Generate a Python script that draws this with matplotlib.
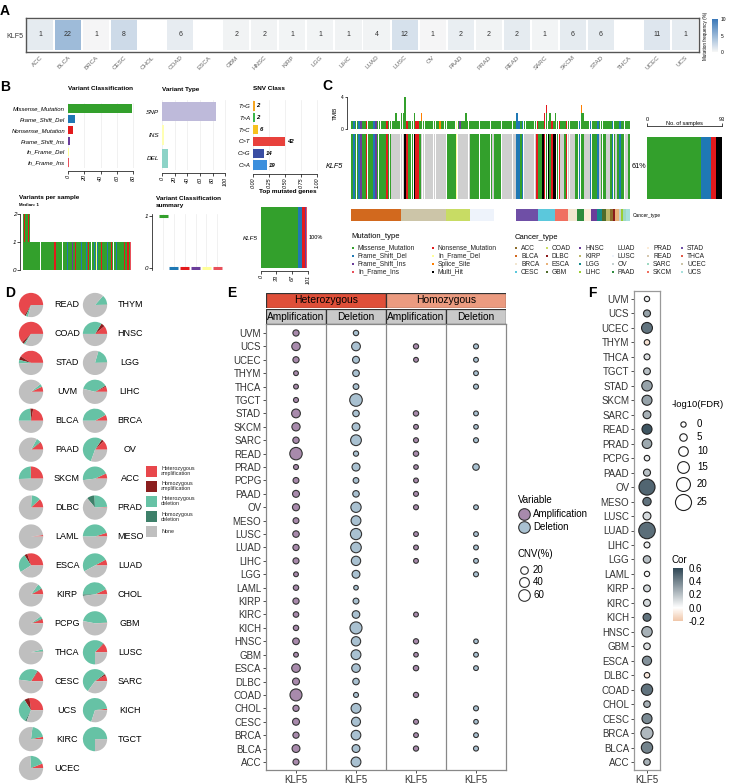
import numpy as np
import matplotlib
matplotlib.use('Agg')
import matplotlib.pyplot as plt
import matplotlib.colors as mcolors
from matplotlib.patches import Rectangle
from matplotlib.cm import ScalarMappable

plt.rcParams['font.family'] = ['Liberation Sans', 'DejaVu Sans']

W, H = 731, 784
fig = plt.figure(figsize=(W / 100, H / 100), dpi=100)


def pax(x0, y0, x1, y1):
    # axes from pixel box (top-left origin)
    return fig.add_axes([x0 / W, 1 - y1 / H, (x1 - x0) / W, (y1 - y0) / H])


def ftxt(x, y, s, **kw):
    fig.text(x / W, 1 - y / H, s, **kw)


# ---------------- data ----------------
# A: mutation counts / frequency per cancer type
a_types = ['ACC', 'BLCA', 'BRCA', 'CESC', 'CHOL', 'COAD', 'ESCA', 'GBM', 'HNSC', 'KIRP', 'LGG', 'LIHC',
           'LUAD', 'LUSC', 'OV', 'PAAD', 'PRAD', 'READ', 'SARC', 'SKCM', 'STAD', 'THCA', 'UCEC', 'UCS']
a_count = [1, 22, 1, 8, 0, 6, 0, 2, 2, 1, 1, 1, 4, 12, 1, 2, 2, 2, 1, 6, 6, 0, 11, 1]
a_freq = [0.9, 4.7, 0.1, 2.2, 0, 0.8, 0, 0.3, 0.3, 0.2, 0.2, 0.3, 0.3, 1.7, 0.1, 0.7, 0.3, 0.9, 0.2,
          0.9, 0.9, 0, 1.3, 0.9]

# B: maftools summary
vc_names = ['Missense_Mutation', 'Frame_Shift_Del', 'Nonsense_Mutation', 'Frame_Shift_Ins',
            'In_Frame_Del', 'In_Frame_Ins']
vc_codes = ['M', 'D', 'N', 'I', 'Y', 'P']
vc_counts = [79, 9, 6, 2, 1, 1]
vc_median = [1, 0, 0, 0, 0, 0]
vt_names = ['SNP', 'INS', 'DEL']
vt_counts = [85, 3, 10]
snv_names = ['T>G', 'T>A', 'T>C', 'C>T', 'C>G', 'C>A']
snv_counts = [2, 2, 6, 42, 14, 19]
vps_bottom = ("MMMMMMMMMM" "MMMMMMMMMM" "MMMMMMMNMM" "MMMMMMMMDM" "MMIMMNMMMM"
              "DMMMDMNMMM" "MDMYDMMNMM" "MMDMMMNMMM" "DMMMMMMNMM" "NMP")
vps_top = "MNMMNM"

# C: oncoplot
onco = "".join(["MDMMDIMMNMMMDIMMMMMNMM", ".......", "HNMMMHNNM", "..............", "MMMMMY",
                ".......", "MMMMMMMMMMMM", ".", "MMMM", "........", "DDMD", ".......",
                "NMMHNMHMNHHMN", "..", "MN....", "MMDMM...DMMMD.MMM..MDM.MDMM..M"])
tmb_extra = {24: 2, 27: 2, 28: 2, 29: 4, 34: 2, 38: 2, 62: 2, 90: 2, 105: 2, 106: 3, 108: 2,
             111: 2, 125: 3, 126: 2}
tmb_top = {38: 'S', 48: 'S', 59: 'I', 106: 'N', 125: 'S'}
side_codes = ['M', 'D', 'N', 'H']
side_counts = [67, 12, 7, 7]
cb_names = ['BLCA', 'UCEC', 'COAD', 'LUSC', 'LUAD', 'STAD', 'CESC', 'SKCM', 'BRCA', 'PAAD', 'PRAD',
            'HNSC', 'LGG', 'GBM', 'KIRP', 'ACC', 'DLBC', 'ESCA', 'OV', 'LIHC', 'SARC', 'UCS']
cb_counts = [27, 25, 13, 13, 12, 12, 9, 7, 5, 4, 4, 3, 3, 2, 2, 2, 1, 2, 1, 1, 2, 2]
cancer_colors = {'ACC': '#8c6d2c', 'BLCA': '#d2691e', 'BRCA': '#f2e6d0', 'CESC': '#5bc8dc',
                 'COAD': '#c8dc64', 'DLBC': '#8b1a1a', 'ESCA': '#e9b27a', 'GBM': '#4f6b2a',
                 'HNSC': '#6a3d9a', 'KIRP': '#bdb76b', 'LGG': '#138a8a', 'LIHC': '#9acd32',
                 'LUAD': '#ffffff', 'LUSC': '#eef3fb', 'OV': '#c4d0d0', 'PAAD': '#2e8b3e',
                 'PRAD': '#fbebd7', 'READ': '#d6c8b0', 'SARC': '#9ed9c2', 'SKCM': '#f07060',
                 'STAD': '#6f4fa6', 'THCA': '#e05a48', 'UCEC': '#ccc5a8', 'UCS': '#a8e0dc'}

# D: CNV pies
pie_types = ['READ', 'COAD', 'STAD', 'UVM', 'BLCA', 'PAAD', 'SKCM', 'DLBC', 'LAML', 'ESCA', 'KIRP',
             'PCPG', 'THCA', 'CESC', 'UCS', 'KIRC', 'UCEC',
             'THYM', 'HNSC', 'LGG', 'LIHC', 'BRCA', 'OV', 'ACC', 'PRAD', 'MESO', 'LUAD', 'CHOL',
             'GBM', 'LUSC', 'SARC', 'KICH', 'TGCT']
pie_het_amp = [0.66, 0.62, 0.41, 0.07, 0.22, 0.10, 0.25, 0.12, 0.02, 0.30, 0.07, 0.05, 0.01, 0.15,
               0.27, 0.03, 0.06,
               0.005, 0.11, 0.005, 0.07, 0.08, 0.125, 0.07, 0.01, 0.05, 0.08, 0.07, 0.01, 0.12,
               0.08, 0.02, 0.0]
pie_hom_amp = [0.02, 0.03, 0.05, 0.0, 0.04, 0.01, 0.005, 0.0, 0.0, 0.04, 0.01, 0.01, 0.0, 0.01,
               0.07, 0.0, 0.0,
               0.0, 0.05, 0.0, 0.015, 0.0, 0.03, 0.0, 0.0, 0.0, 0.0, 0.0, 0.0, 0.01, 0.02, 0.0, 0.0]
pie_het_del = [0.03, 0.02, 0.05, 0.04, 0.24, 0.06, 0.25, 0.12, 0.0, 0.25, 0.07, 0.04, 0.03, 0.32,
               0.33, 0.20, 0.20,
               0.13, 0.34, 0.20, 0.375, 0.42, 0.54, 0.45, 0.25, 0.45, 0.50, 0.43, 0.46, 0.62,
               0.55, 0.68, 0.75]
pie_hom_del = [0.0, 0.0, 0.0, 0.0, 0.0, 0.0, 0.0, 0.0, 0.0, 0.0, 0.0, 0.0, 0.0, 0.0, 0.02, 0.0, 0.0,
               0.0, 0.0, 0.0, 0.0, 0.0, 0.0, 0.0, 0.10, 0.0, 0.0, 0.02, 0.0, 0.0, 0.0, 0.0, 0.0]

# E: CNV percentage
e_types = ['UVM', 'UCS', 'UCEC', 'THYM', 'THCA', 'TGCT', 'STAD', 'SKCM', 'SARC', 'READ', 'PRAD',
           'PCPG', 'PAAD', 'OV', 'MESO', 'LUSC', 'LUAD', 'LIHC', 'LGG', 'LAML', 'KIRP', 'KIRC',
           'KICH', 'HNSC', 'GBM', 'ESCA', 'DLBC', 'COAD', 'CHOL', 'CESC', 'BRCA', 'BLCA', 'ACC']
nan = np.nan
e_het_amp = [10, 27, 10, 2, 2, 3, 30, 25, 11, 70, 3, 8, 15, 16, 8, 12, 10, 9, 2, 5, 10, 6, 5, 13,
             2, 28, 15, 65, 10, 15, 10, 22, 9]
e_het_del = [5, 30, 15, 13, 7, 72, 12, 22, 50, 4, 23, 7, 12, 45, 40, 55, 48, 35, 22, 1, 8, 20, 65,
             35, 40, 28, 12, 3, 40, 32, 38, 22, 40]
e_hom_amp = [nan, 4, 2, nan, nan, nan, 5, 2, 3, 5, 1, 2, 3, 3, nan, 2, 2, 2, nan, nan, nan, 2, nan,
             4, 1, 5, nan, 4, nan, 3, 2, 4, nan]
e_hom_del = [nan, 3, 2, 2, 3, nan, 2, 1, 3, nan, 12, nan, nan, 2, nan, 2, 2, 2, 3, nan, nan, nan,
             nan, 1, 2, 2, nan, nan, 3, 1, 2, 3, nan]

# F: correlation
f_cor = [0.05, 0.3, 0.45, -0.1, 0.1, 0.2, 0.3, 0.3, 0.25, 0.55, 0.28, 0.05, 0.2, 0.5, 0.45, 0.12,
         0.47, 0.05, 0.2, 0.02, 0.12, 0.12, 0.45, 0.25, 0.1, 0.35, -0.08, 0.45, 0.25, 0.38, 0.23,
         0.4, 0.25]
f_logfdr = [0, 4, 13, 0.5, 1.5, 3.5, 12, 11, 6, 11, 10, 0.5, 4, 25, 7, 6, 26, 1.5, 5, 0, 3.5, 4, 6,
            12, 3, 9, 0.5, 14, 3, 11, 16, 14, 3]

# ---------------- colours ----------------
mut_colors = {'M': '#33a02c', 'D': '#1f78b4', 'N': '#e31a1c', 'I': '#6a3d9a', 'Y': '#ffff99',
              'P': '#e8505b', 'S': '#ff7f00', 'H': 'black', '.': '#cfcfcf'}
vt_colors = ['#bebada', '#ffffb3', '#8dd3c7']
snv_colors = ['#f5a623', '#3cb44b', '#f7c21e', '#e8413c', '#3a4ea3', '#3c8fdd']
pie_colors = ['#e8474c', '#8b1e1e', '#66c2a5', '#3e806a', '#bfbfbf']
amp_c, del_c = '#a88aac', '#a9c1d1'


def cnv_size(v):
    return 10 + 1.0 * np.asarray(v)


def fdr_size(v):
    return ((5.3 + 0.43 * np.asarray(v)) * 0.72) ** 2


# ================= A =================
axA = pax(26, 18, 699, 52)
cmapA = mcolors.LinearSegmentedColormap.from_list('a', ['#f6f6f6', '#3a78b8'])
normA = mcolors.Normalize(0, 10)
xa = np.arange(len(a_types))
colsA = [cmapA(normA(f)) if c > 0 else 'white' for f, c in zip(a_freq, a_count)]
axA.bar(xa, 0.88, bottom=0.06, width=0.93, color=colsA)
for x, c in zip(xa, a_count):
    if c > 0:
        axA.text(x, 0.5, str(c), ha='center', va='center', fontsize=5, color='#333')
axA.set_xlim(-0.5, len(a_types) - 0.5)
axA.set_ylim(0, 1)
axA.set_xticks(xa)
axA.set_xticklabels(a_types, rotation=45, ha='right', rotation_mode='anchor', fontsize=4.5,
                    color='#666')
axA.set_yticks([0.5])
axA.set_yticklabels(['KLF5'], fontsize=5, color='#333')
axA.tick_params(length=0, pad=2)
for s in axA.spines.values():
    s.set_color('#555')
    s.set_linewidth(1)
caxA = pax(712, 19, 718, 52)
cbA = fig.colorbar(ScalarMappable(normA, cmapA), cax=caxA, ticks=[0, 5, 10])
cbA.outline.set_visible(False)
caxA.tick_params(labelsize=3.5, length=0, pad=2)
ftxt(706, 36, 'Mutation frequency (%)', rotation=90, fontsize=3.3, ha='center', va='center')


# ================= B =================
def bottom_axis(ax, ticks, labels=None):
    for s in ['top', 'right', 'left']:
        ax.spines[s].set_visible(False)
    ax.spines['bottom'].set_linewidth(0.5)
    ax.spines['bottom'].set_position(('outward', 2))
    ax.spines['bottom'].set_bounds(ticks[0], ticks[-1])
    ax.set_xticks(ticks)
    ax.set_xticklabels(labels if labels else [str(t) for t in ticks], rotation=90,
                       fontstyle='italic', fontsize=4)
    ax.tick_params(axis='x', length=2, width=0.5, pad=1)
    ax.tick_params(axis='y', length=0, pad=2)
    ax.grid(axis='x', color='#ebebeb', lw=0.5)
    ax.set_axisbelow(True)


axVC = pax(68, 103, 134, 168)
yv = np.arange(len(vc_names))[::-1]
axVC.barh(yv, vc_counts, height=0.78, color=[mut_colors[c] for c in vc_codes])
axVC.set_ylim(-0.5, 5.5)
axVC.set_xlim(0, 81)
axVC.set_yticks(yv)
axVC.set_yticklabels(vc_names, fontstyle='italic', fontsize=4.3)
bottom_axis(axVC, [0, 20, 40, 60, 80])
ftxt(68, 89, 'Variant Classification', fontsize=4.6, fontweight='bold', va='center')

axVT = pax(162, 100, 226, 170)
yt = np.arange(len(vt_names))[::-1]
axVT.barh(yt, vt_counts, height=0.82, color=vt_colors)
axVT.set_ylim(-0.5, 2.5)
axVT.set_xlim(0, 101)
axVT.set_yticks(yt)
axVT.set_yticklabels(vt_names, fontstyle='italic', fontsize=4.6)
bottom_axis(axVT, [0, 20, 40, 60, 80, 100])
ftxt(162, 89, 'Variant Type', fontsize=4.6, fontweight='bold', va='center')

axSN = pax(253, 100, 318, 171)
ys = np.arange(len(snv_names))[::-1]
snv_frac = np.array(snv_counts) / sum(snv_counts)
axSN.barh(ys, snv_frac, height=0.8, color=snv_colors)
for y, f, c in zip(ys, snv_frac, snv_counts):
    axSN.text(f + 0.03, y, str(c), fontsize=4.3, fontweight='bold', fontstyle='italic',
              va='center')
axSN.set_ylim(-0.5, 5.5)
axSN.set_xlim(0, 1.01)
axSN.set_yticks(ys)
axSN.set_yticklabels(snv_names, fontstyle='italic', fontsize=4.3)
bottom_axis(axSN, [0, 0.25, 0.5, 0.75, 1.0], ['0.00', '0.25', '0.50', '0.75', '1.00'])
ftxt(253, 89, 'SNV Class', fontsize=4.6, fontweight='bold', va='center')

axVP = pax(23, 214, 131, 270)
xp = np.arange(len(vps_bottom))
axVP.bar(xp, 1, width=0.95, color=[mut_colors[c] for c in vps_bottom])
xt = np.arange(len(vps_top))
axVP.bar(xt, 1, bottom=1, width=0.95, color=[mut_colors[c] for c in vps_top])
axVP.set_xlim(-0.6, len(vps_bottom) - 0.4)
axVP.set_ylim(0, 2)
for s in ['top', 'right', 'bottom']:
    axVP.spines[s].set_visible(False)
axVP.spines['left'].set_linewidth(0.5)
axVP.spines['left'].set_position(('outward', 2))
axVP.set_xticks([])
axVP.set_yticks([0, 1, 2])
axVP.set_yticklabels(['0', '1', '2'], fontstyle='italic', fontsize=4.5)
axVP.tick_params(axis='y', length=2, width=0.5, pad=1)
ftxt(19, 198, 'Variants per sample', fontsize=4.6, fontweight='bold', va='center')
ftxt(19, 205, 'Median: 1', fontsize=3.2, fontweight='bold', va='center')

axVS = pax(155, 214, 227, 270)
xs_ = np.arange(len(vc_names))
axVS.hlines(vc_median, xs_ - 0.42, xs_ + 0.42, colors=[mut_colors[c] for c in vc_codes], lw=2.2)
axVS.set_xlim(-0.75, 5.9)
axVS.set_ylim(-0.04, 1.04)
for s in ['top', 'right', 'bottom']:
    axVS.spines[s].set_visible(False)
axVS.spines['left'].set_linewidth(0.5)
axVS.spines['left'].set_position(('outward', 2))
axVS.set_xticks(xs_)
axVS.set_xticklabels([])
axVS.tick_params(axis='x', length=0)
axVS.grid(axis='x', color='#ebebeb', lw=0.5)
axVS.set_axisbelow(True)
axVS.set_yticks([0, 1])
axVS.set_yticklabels(['0', '1'], fontstyle='italic', fontsize=4.5)
axVS.tick_params(axis='y', length=2, width=0.5, pad=1)
ftxt(156, 198, 'Variant Classification', fontsize=4.6, fontweight='bold', va='center')
ftxt(156, 206, 'summary', fontsize=4.6, fontweight='bold', va='center')

axTG = pax(261, 207, 308, 268)
left = 0
for c, n in zip(vc_codes, vc_counts):
    axTG.barh(0, n, left=left, height=1.0, color=mut_colors[c])
    left += n
axTG.set_ylim(-0.5, 0.5)
axTG.set_xlim(0, 101)
axTG.set_yticks([0])
axTG.set_yticklabels(['KLF5'], fontstyle='italic', fontsize=4.5)
bottom_axis(axTG, [0, 33, 67, 101])
axTG.grid(False)
axTG.text(102, 0, '100%', fontsize=4, va='center')
ftxt(259, 191, 'Top mutated genes', fontsize=4.6, fontweight='bold', va='center')

# ================= C =================
ncol = len(onco)
xc = np.arange(ncol)
axTMB = pax(351, 97, 630, 129)
tmb_h = [tmb_extra.get(i, 1) for i in range(ncol)]
base_c = [mut_colors[c] if c not in '.H' else mut_colors['M'] for c in onco]
axTMB.bar(xc, tmb_h, width=0.85, color=base_c)
top_i = list(tmb_top.keys())
axTMB.bar(top_i, 1, bottom=[tmb_h[i] - 1 for i in top_i], width=0.85,
          color=[mut_colors[tmb_top[i]] for i in top_i])
axTMB.set_xlim(-0.5, ncol - 0.5)
axTMB.set_ylim(0, 4)
for s in ['top', 'right', 'bottom']:
    axTMB.spines[s].set_visible(False)
axTMB.spines['left'].set_linewidth(0.5)
axTMB.spines['left'].set_position(('outward', 3))
axTMB.set_xticks([])
axTMB.set_yticks([0, 4])
axTMB.tick_params(axis='y', labelsize=3.5, length=1.5, width=0.5, pad=1)
axTMB.set_ylabel('TMB', fontsize=4.5, labelpad=2)

axON = pax(351, 134, 630, 199)
axON.bar(xc, 1, width=0.88, color=[mut_colors[c] for c in onco])
axON.set_xlim(-0.5, ncol - 0.5)
axON.set_ylim(0, 1)
axON.axis('off')
ftxt(343, 166, 'KLF5', fontsize=5.2, fontstyle='italic', ha='right', va='center')
ftxt(632, 166, '61%', fontsize=5.2, va='center')

axCB = pax(351, 209, 630, 221)
left = -0.5
for nme, n in zip(cb_names, cb_counts):
    axCB.barh(0, n, left=left, height=1, color=cancer_colors[nme])
    left += n
axCB.set_xlim(-0.5, ncol - 0.5)
axCB.set_ylim(-0.5, 0.5)
axCB.axis('off')
ftxt(633, 215, 'Cancer_type', fontsize=3.5, va='center')

axSB = pax(647, 137, 722, 199)
left = 0
for c, n in zip(side_codes, side_counts):
    axSB.barh(0, n, left=left, height=1, color=mut_colors[c])
    left += n
axSB.set_xlim(0, sum(side_counts))
axSB.set_ylim(-0.5, 0.5)
for s in ['right', 'bottom', 'left']:
    axSB.spines[s].set_visible(False)
axSB.spines['top'].set_position(('outward', 8))
axSB.spines['top'].set_linewidth(0.5)
axSB.xaxis.set_ticks_position('top')
axSB.set_xticks([0, sum(side_counts)])
axSB.tick_params(axis='x', labelsize=4, length=2, width=0.5, pad=1)
axSB.set_yticks([])
ftxt(684, 124, 'No. of samples', fontsize=4, ha='center', va='center')

# ================= D =================
for i, nme in enumerate(pie_types):
    col = 0 if i < 17 else 1
    row = i if i < 17 else i - 17
    cx = [31, 95][col]
    cy = 305 + 28.94 * row
    axp = pax(cx - 12.5, cy - 12.5, cx + 12.5, cy + 12.5)
    fr = [pie_het_amp[i], pie_hom_amp[i], pie_het_del[i], pie_hom_del[i]]
    fr.append(max(0.0, 1 - sum(fr)))
    axp.pie(fr, colors=pie_colors, startangle=0, counterclock=True, radius=1,
            wedgeprops=dict(linewidth=0))
    axp.set_xlim(-1.03, 1.03)
    axp.set_ylim(-1.03, 1.03)
    axp.set_aspect('equal')
    ftxt([67, 130][col], cy, nme, ha='center', va='center', fontsize=6.5)

# ================= E =================
hdr1 = pax(266, 293, 506, 308)
hdr1.add_patch(Rectangle((0, 0), 2, 1, fc='#df4f39', ec='#333', lw=0.9))
hdr1.add_patch(Rectangle((2, 0), 2, 1, fc='#eb9b80', ec='#333', lw=0.9))
hdr1.text(1, 0.5, 'Heterozygous', ha='center', va='center', fontsize=7.5)
hdr1.text(3, 0.5, 'Homozygous', ha='center', va='center', fontsize=7.5)
hdr1.set_xlim(0, 4)
hdr1.set_ylim(0, 1)
hdr1.axis('off')
hdr2 = pax(266, 309, 506, 324)
for j, lab in enumerate(['Amplification', 'Deletion', 'Amplification', 'Deletion']):
    hdr2.add_patch(Rectangle((j, 0), 1, 1, fc='#c9c9c9', ec='#333', lw=0.9))
    hdr2.text(j + 0.5, 0.5, lab, ha='center', va='center', fontsize=7.3)
hdr2.set_xlim(0, 4)
hdr2.set_ylim(0, 1)
hdr2.axis('off')

axE = pax(266, 324, 506, 770)
ye = np.arange(len(e_types))[::-1]
for j, (vals, c) in enumerate(zip([e_het_amp, e_het_del, e_hom_amp, e_hom_del],
                                  [amp_c, del_c, amp_c, del_c])):
    v = np.array(vals, float)
    m = ~np.isnan(v)
    axE.scatter(np.full(m.sum(), j), ye[m], s=cnv_size(v[m]), color=c, edgecolor='#333',
                linewidth=0.8, zorder=3)
axE.set_xlim(-0.5, 3.5)
axE.set_ylim(-0.6, len(e_types) - 1 + 0.67)
for xv in [0.5, 1.5, 2.5]:
    axE.axvline(xv, color='#888', lw=0.9)
axE.set_yticks(ye)
axE.set_yticklabels(e_types, fontsize=7)
axE.set_xticks([0, 1, 2, 3])
axE.set_xticklabels(['KLF5'] * 4, fontsize=7)
axE.tick_params(length=2, width=0.6, pad=1.5, colors='#333')
for s in axE.spines.values():
    s.set_color('#888')
    s.set_linewidth(0.9)

# ================= F =================
axF = pax(634, 291, 660, 770)
cmapF = mcolors.LinearSegmentedColormap.from_list(
    'f', [(0, '#f0c6a8'), (0.25, '#ffffff'), (1, '#2e4654')])
normF = mcolors.Normalize(-0.2, 0.6)
yf = np.arange(len(e_types))[::-1]
axF.scatter(np.zeros(len(yf)), yf, s=fdr_size(f_logfdr), c=f_cor, cmap=cmapF, norm=normF,
            edgecolor='#222', linewidth=0.8, zorder=3)
axF.set_xlim(-1, 1)
axF.set_ylim(-0.55, len(yf) - 1 + 0.55)
axF.set_yticks(yf)
axF.set_yticklabels(e_types, fontsize=7)
axF.set_xticks([0])
axF.set_xticklabels(['KLF5'], fontsize=7)
axF.tick_params(length=2, width=0.6, pad=1.5, colors='#333')
for s in axF.spines.values():
    s.set_color('#999')
    s.set_linewidth(0.9)
caxF = pax(673, 568, 683, 621)
cbF = fig.colorbar(ScalarMappable(normF, cmapF), cax=caxF, ticks=[-0.2, 0, 0.2, 0.4, 0.6])
cbF.outline.set_visible(False)
caxF.set_yticklabels(['-0.2', '0.0', '0.2', '0.4', '0.6'])
caxF.tick_params(labelsize=7, length=2, color='white', pad=2)

# ================= legends / labels =================
lg = pax(0, 0, W, H)
lg.set_xlim(0, W)
lg.set_ylim(H, 0)
lg.axis('off')

# C legends
lg.text(351, 236, 'Mutation_type', fontsize=5.5, va='center')
mt_cols = [[('Missense_Mutation', 'M'), ('Frame_Shift_Del', 'D'), ('Frame_Shift_Ins', 'I'),
            ('In_Frame_Ins', 'P')],
           [('Nonsense_Mutation', 'N'), ('In_Frame_Del', 'Y'), ('Splice_Site', 'S'),
            ('Multi_Hit', 'H')]]
for cx, entries in zip([353, 433], mt_cols):
    for k, (lab, code) in enumerate(entries):
        yy = 248 + 8 * k
        lg.scatter(cx, yy, marker='s', s=4, color=mut_colors[code], linewidth=0)
        lg.text(cx + 5, yy, lab, fontsize=4.8, va='center', color='#222')
lg.text(515, 237, 'Cancer_type', fontsize=5.5, va='center')
ct_sorted = sorted(cancer_colors.keys())
for k, nme in enumerate(ct_sorted):
    cx = [516, 547, 580, 613, 648, 682][k // 4]
    yy = 248 + 8 * (k % 4)
    lg.scatter(cx, yy, marker='s', s=4, color=cancer_colors[nme], linewidth=0)
    lg.text(cx + 5, yy, nme, fontsize=4.8, va='center', color='#222')

# D legend
pie_labels = ['Heterozygous\namplification', 'Homozygous\namplification',
              'Heterozygous\ndeletion', 'Homozygous\ndeletion', 'None']
for k, (lab, c) in enumerate(zip(pie_labels, pie_colors)):
    yy = 471 + 15.2 * k
    lg.add_patch(Rectangle((146, yy - 5.5), 11, 11, fc=c, ec='none'))
    lg.text(161, yy, lab, fontsize=3.9, va='center', linespacing=1.0, color='#222')

# E legend
lg.text(518, 500, 'Variable', fontsize=7, va='center')
for yy, c, lab in [(514, amp_c, 'Amplification'), (527, del_c, 'Deletion')]:
    lg.scatter(524, yy, s=70, color=c, edgecolor='#333', linewidth=0.8)
    lg.text(533, yy, lab, fontsize=7, va='center')
lg.text(518, 554, 'CNV(%)', fontsize=7, va='center')
for yy, v in [(570, 20), (582, 40), (595, 60)]:
    lg.scatter(524, yy, s=cnv_size(v), color='white', edgecolor='#333', linewidth=0.8)
    lg.text(533, yy, str(v), fontsize=7, va='center')

# F legend
lg.text(672, 404, '-log10(FDR)', fontsize=6.8, va='center')
for yy, v in [(424, 0), (437, 5), (451, 10), (467, 15), (484, 20), (502, 25)]:
    lg.scatter(683, yy, s=fdr_size(v), color='white', edgecolor='#222', linewidth=0.8)
    lg.text(697, yy, str(v), fontsize=7, va='center')
lg.text(672, 560, 'Cor', fontsize=7, va='center')

# panel letters
for lab, x, y in [('A', 5, 11), ('B', 5, 87), ('C', 327, 86), ('D', 10, 293), ('E', 232, 293),
                  ('F', 592, 293)]:
    lg.text(x, y, lab, fontsize=10, fontweight='bold', ha='center', va='center')

fig.savefig('out.png', dpi=100)
